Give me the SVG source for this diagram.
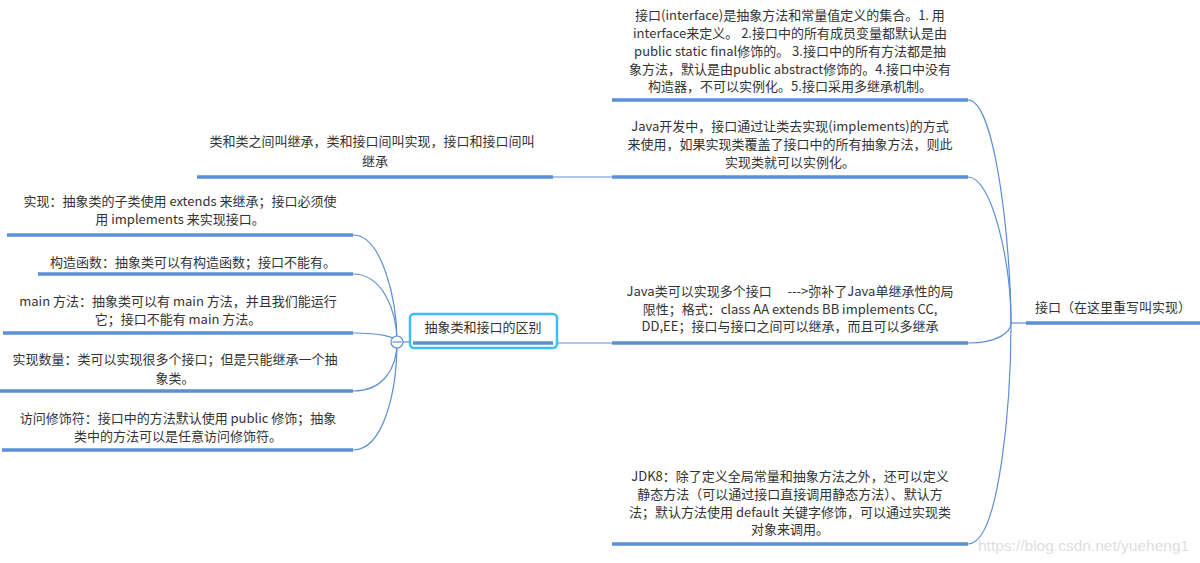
<svg xmlns="http://www.w3.org/2000/svg" width="1200" height="563" viewBox="0 0 1200 563">
<style>
.t{font-family:"Noto Sans CJK SC","Liberation Sans",sans-serif;font-size:13px;fill:#333;text-anchor:middle}
.bar{stroke:#5b8fd6;stroke-width:3.5;fill:none}
.ln{stroke:#5b8fd6;stroke-width:1.2;fill:none}
.wm{font-family:"Liberation Sans",sans-serif;font-size:15.5px;fill:#dedede}
</style>
<rect width="1200" height="563" fill="#fff"/>
<g id="connectors">
<path class="ln" d="M968,100 C996,100 1011,250 1011,323"/>
<path class="ln" d="M968,177 C992,177 1011,262 1011,323"/>
<path class="ln" d="M968,343 C998,343 1011,332 1011,323"/>
<path class="ln" d="M968,544 C1000,544 1011,400 1011,323"/>
<path class="ln" d="M1011,323 H1026"/>
<path class="ln" d="M553,177 H612"/>
<path class="ln" d="M558,343 H612"/>
<path class="ln" d="M353,235 C382,235 397,300 397,342"/>
<path class="ln" d="M353,274 C382,274 397,310 397,342"/>
<path class="ln" d="M353,333 C380,333 397,337 397,342"/>
<path class="ln" d="M353,391 C382,391 397,370 397,342"/>
<path class="ln" d="M353,450 C384,450 397,390 397,342"/>
<path class="ln" d="M403,342 H410"/>
</g>
<g id="root">
<text class="t" x="1113" y="312">接口（在这里重写叫实现）</text>
<line class="bar" x1="1026" y1="323" x2="1200" y2="323"/>
</g>
<g id="item1">
<text class="t" x="790" y="20">接口(interface)是抽象方法和常量值定义的集合。1. 用</text>
<text class="t" x="790" y="38">interface来定义。 2.接口中的所有成员变量都默认是由</text>
<text class="t" x="790" y="56">public static final修饰的。 3.接口中的所有方法都是抽</text>
<text class="t" x="790" y="74">象方法，默认是由public abstract修饰的。4.接口中没有</text>
<text class="t" x="790" y="91">构造器，不可以实例化。5.接口采用多继承机制。</text>
<line class="bar" x1="612" y1="100" x2="968" y2="100"/>
</g>
<g id="item2">
<text class="t" x="790" y="131">Java开发中，接口通过让类去实现(implements)的方式</text>
<text class="t" x="790" y="149">来使用，如果实现类覆盖了接口中的所有抽象方法，则此</text>
<text class="t" x="790" y="167">实现类就可以实例化。</text>
<line class="bar" x1="612" y1="177" x2="968" y2="177"/>
</g>
<g id="item3">
<text class="t" x="790" y="296">Java类可以实现多个接口　 ---&gt;弥补了Java单继承性的局</text>
<text class="t" x="790" y="314">限性；格式：class AA extends BB implements CC,</text>
<text class="t" x="790" y="331">DD,EE；接口与接口之间可以继承，而且可以多继承</text>
<line class="bar" x1="612" y1="343" x2="968" y2="343"/>
</g>
<g id="item4">
<text class="t" x="790" y="481">JDK8：除了定义全局常量和抽象方法之外，还可以定义</text>
<text class="t" x="790" y="499">静态方法（可以通过接口直接调用静态方法）、默认方</text>
<text class="t" x="790" y="517">法；默认方法使用 default 关键字修饰，可以通过实现类</text>
<text class="t" x="790" y="534">对象来调用。</text>
<line class="bar" x1="612" y1="544" x2="968" y2="544"/>
</g>
<g id="relation">
<text class="t" x="372" y="146">类和类之间叫继承，类和接口间叫实现，接口和接口间叫</text>
<text class="t" x="375" y="166">继承</text>
<line class="bar" x1="197" y1="177" x2="553" y2="177"/>
</g>
<g id="diff">
<rect x="410" y="314" width="147" height="34" rx="4" fill="#fff" stroke="#3dbff5" stroke-width="2.5"/>
<text class="t" x="483" y="332">抽象类和接口的区别</text>
<line class="bar" x1="413" y1="343" x2="553" y2="343"/>
</g>
<g id="hub">
<circle cx="397" cy="342" r="6" fill="#fff" stroke="#5b8fd6" stroke-width="1.2"/>
<line x1="392.5" y1="342" x2="401.5" y2="342" stroke="#5b8fd6" stroke-width="1.2"/>
</g>
<g id="leftA">
<text class="t" x="180" y="206">实现：抽象类的子类使用 extends 来继承；接口必须使</text>
<text class="t" x="180" y="224">用 implements 来实现接口。</text>
<line class="bar" x1="7" y1="235" x2="353" y2="235"/>
</g>
<g id="leftB">
<text class="t" x="193" y="267">构造函数：抽象类可以有构造函数；接口不能有。</text>
<line class="bar" x1="38" y1="274" x2="353" y2="274"/>
</g>
<g id="leftC">
<text class="t" x="178" y="306">main 方法：抽象类可以有 main 方法，并且我们能运行</text>
<text class="t" x="178" y="324">它；接口不能有 main 方法。</text>
<line class="bar" x1="3" y1="333" x2="353" y2="333"/>
</g>
<g id="leftD">
<text class="t" x="175" y="364">实现数量：类可以实现很多个接口；但是只能继承一个抽</text>
<text class="t" x="175" y="383">象类。</text>
<line class="bar" x1="0" y1="391" x2="353" y2="391"/>
</g>
<g id="leftE">
<text class="t" x="178" y="423">访问修饰符：接口中的方法默认使用 public 修饰；抽象</text>
<text class="t" x="178" y="441">类中的方法可以是任意访问修饰符。</text>
<line class="bar" x1="2" y1="450" x2="353" y2="450"/>
</g>
<text class="wm" x="978" y="551">https://blog.csdn.net/yueheng1</text>
</svg>
